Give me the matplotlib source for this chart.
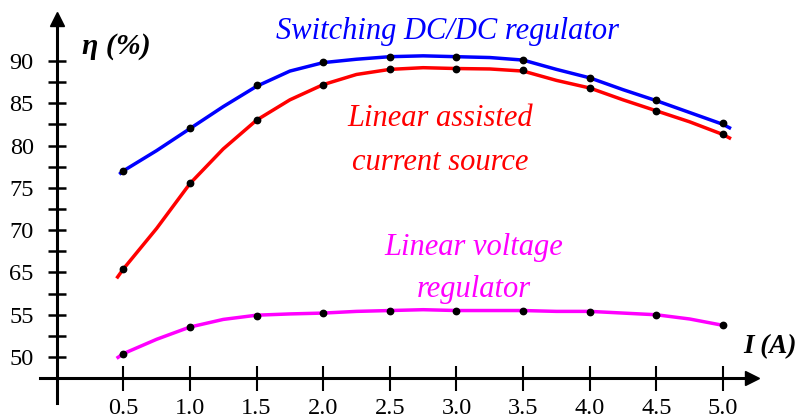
import numpy as np
import matplotlib
matplotlib.use("Agg")
import matplotlib.pyplot as plt

# ---------------- data ----------------
x_ticks = [0.5, 1.0, 1.5, 2.0, 2.5, 3.0, 3.5, 4.0, 4.5, 5.0]
x_tick_labels = ["0.5", "1.0", "1.5", "2.0", "2.5", "3.0", "3.5", "4.0", "4.5", "5.0"]
y_ticks = [50, 55, 65, 70, 75, 80, 85, 90]
y_tick_labels = ["50", "55", "65", "70", "75", "80", "85", "90"]
y_minor = [52.5, 57.5, 67.5, 72.5, 77.5, 82.5, 87.5]

# measured points (dots)
dot_x = [0.5, 1.0, 1.5, 2.0, 2.5, 3.0, 3.5, 4.0, 4.5, 5.0]
switching_dots = [77.0, 82.1, 87.1, 89.85, 90.5, 90.5, 90.1, 88.0, 85.4, 82.7]
assisted_dots = [65.4, 75.6, 83.0, 87.2, 89.06, 89.1, 88.9, 86.8, 84.1, 81.4]
linear_dots = [50.4, 53.55, 54.9, 55.2, 55.45, 55.4, 55.4, 55.3, 55.0, 53.75]

# hand-drawn curves
switching_cx = [0.47, 0.5, 0.75, 1.0, 1.25, 1.5, 1.75, 2.0, 2.25, 2.5, 2.75, 3.0,
                3.25, 3.5, 3.75, 4.0, 4.25, 4.5, 4.75, 5.0, 5.06]
switching_cy = [76.6, 77.0, 79.4, 82.0, 84.6, 87.0, 88.8, 89.8, 90.2, 90.5, 90.6, 90.5,
                90.4, 90.1, 89.0, 88.0, 86.6, 85.3, 83.9, 82.5, 82.0]
assisted_cx = [0.45, 0.5, 0.75, 1.0, 1.25, 1.5, 1.75, 2.0, 2.25, 2.5, 2.75, 3.0,
               3.25, 3.5, 3.75, 4.0, 4.25, 4.5, 4.75, 5.0, 5.06]
assisted_cy = [64.3, 65.4, 70.2, 75.5, 79.6, 83.0, 85.4, 87.2, 88.4, 89.0, 89.2, 89.1,
               89.05, 88.8, 87.7, 86.8, 85.4, 84.1, 82.8, 81.3, 80.8]
linear_cx = [0.45, 0.5, 0.75, 1.0, 1.25, 1.5, 1.75, 2.0, 2.25, 2.5, 2.75, 3.0,
             3.25, 3.5, 3.75, 4.0, 4.25, 4.5, 4.75, 5.0]
linear_cy = [49.85, 50.4, 52.1, 53.55, 54.45, 54.95, 55.1, 55.2, 55.4, 55.5, 55.6, 55.5,
             55.5, 55.5, 55.4, 55.4, 55.2, 55.0, 54.5, 53.75]

# ---------------- figure ----------------
plt.rcParams['font.family'] = ['Liberation Serif', 'DejaVu Serif']
W, H = 799, 418
fig = plt.figure(figsize=(W / 100, H / 100), dpi=100)
ax = fig.add_axes([0, 0, 1, 1])


def fwd(v):
    v = np.asarray(v, dtype=float)
    return np.where(v >= 60, v, v + 5)


def inv(u):
    u = np.asarray(u, dtype=float)
    return np.where(u >= 65, u, u - 5)


ax.set_yscale('function', functions=(fwd, inv))
ax.set_xlim(-0.425, 5.57)
ax.set_ylim(42.8, 97.2)

lw = 2.5
ax.plot(switching_cx, switching_cy, color='#0000ff', lw=lw, solid_capstyle='butt')
ax.plot(assisted_cx, assisted_cy, color='#ff0000', lw=lw, solid_capstyle='butt')
ax.plot(linear_cx, linear_cy, color='#ff00ff', lw=lw, solid_capstyle='butt')
for d in (switching_dots, assisted_dots, linear_dots):
    ax.plot(dot_x, d, 'o', color='black', ms=4.6, zorder=5)

# axes
for s in ('top', 'right'):
    ax.spines[s].set_visible(False)
ax.spines['left'].set_position(('data', 0))
ax.spines['bottom'].set_position(('data', 47.5))
ax.spines['left'].set_bounds(44.6, 95.0)
ax.spines['bottom'].set_bounds(-0.125, 5.22)
for s in ('left', 'bottom'):
    ax.spines[s].set_linewidth(2.2)
    ax.spines[s].set_color('black')
ax.plot([0], [95.0], marker='^', color='black', ms=10, clip_on=False, zorder=6)
ax.plot([5.22], [47.5], marker='>', color='black', ms=10, clip_on=False, zorder=6)

ax.set_xticks(x_ticks)
ax.set_xticklabels(x_tick_labels)
ax.set_yticks(y_ticks)
ax.set_yticklabels(y_tick_labels)
ax.set_yticks(y_minor, minor=True)
ax.tick_params(axis='x', direction='inout', length=18, width=1.5, pad=5,
               labelsize=17.5)
ax.tick_params(axis='y', which='both', direction='inout', length=13, width=1.8,
               pad=10, labelsize=17.5)
ax.tick_params(axis='x', which='minor', length=0)

# labels
def ftext(px, py, s, **kw):
    fig.text(px / W, 1 - py / H, s, **kw)

fs = 22
ftext(447, 39, "Switching DC/DC regulator", color='#0000ff', style='italic',
      fontsize=fs, ha='center', va='baseline')
ftext(440, 126, "Linear assisted", color='#ff0000', style='italic',
      fontsize=fs, ha='center', va='baseline')
ftext(440, 170, "current source", color='#ff0000', style='italic',
      fontsize=fs, ha='center', va='baseline')
ftext(474, 255, "Linear voltage", color='#ff00ff', style='italic',
      fontsize=fs, ha='center', va='baseline')
ftext(474, 297, "regulator", color='#ff00ff', style='italic',
      fontsize=fs, ha='center', va='baseline')
ftext(82, 47, "η (%)", style='italic', weight='bold', fontsize=21.5,
      ha='left', va='center')
ftext(797, 347, "I (A)", style='italic', weight='bold', fontsize=19.5,
      ha='right', va='center')

fig.savefig("out.png", dpi=100)
